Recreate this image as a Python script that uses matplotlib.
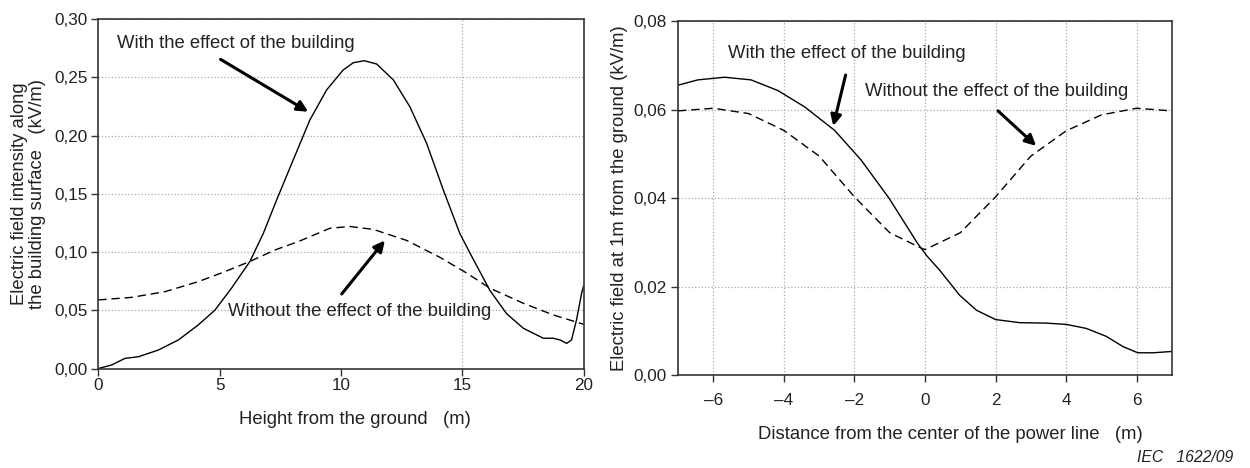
import matplotlib
matplotlib.use("Agg")
import matplotlib.pyplot as plt
from matplotlib.ticker import FuncFormatter

plt.rcParams['font.family'] = ['Liberation Sans', 'DejaVu Sans']

# ---- Left chart data: along the building surface ----
left_with_x = [0, 0.55, 1.1, 1.65, 2.47, 3.3, 4.12, 4.81, 5.49, 6.25, 6.8, 7.35, 8.03, 8.72,
               9.41, 10.09, 10.51, 10.96, 11.47, 12.16, 12.84, 13.53, 14.22, 14.9,
               15.32, 16.14, 16.83, 17.52, 18.34, 18.75, 19.03, 19.3, 19.5, 19.71, 19.92, 20.0]
left_with_y = [0.000, 0.003, 0.0087, 0.0101, 0.0158, 0.0245, 0.0374, 0.0502, 0.069, 0.092,
               0.116, 0.1448, 0.179, 0.2135, 0.2393, 0.2564, 0.2627, 0.2644, 0.2616, 0.2479,
               0.2249, 0.1935, 0.1533, 0.116, 0.099, 0.067, 0.047, 0.0345, 0.026, 0.026,
               0.0245, 0.0216, 0.0245, 0.042, 0.065, 0.071]
left_without_x = [0, 1.37, 2.75, 4.12, 5.22, 6.25, 7.28, 8.24, 9.55, 10.37, 11.34, 12.71,
                  14.08, 15.18, 16.14, 17.52, 18.75, 20.0]
left_without_y = [0.0589, 0.0611, 0.066, 0.0746, 0.0832, 0.092, 0.1018, 0.109, 0.1205, 0.122,
                  0.1195, 0.110, 0.0955, 0.082, 0.069, 0.056, 0.046, 0.038]
left_xticks = [0, 5, 10, 15, 20]
left_yticks = [0.00, 0.05, 0.10, 0.15, 0.20, 0.25, 0.30]

# ---- Right chart data: 1 m from the ground ----
right_with_x = [-7, -6.44, -5.68, -4.93, -4.17, -3.41, -2.56, -1.81, -1.02, -0.21, 0.05, 0.42,
                0.98, 1.46, 2.0, 2.68, 3.44, 4.01, 4.57, 5.14, 5.61, 6.03, 6.46, 7.0]
right_with_y = [0.0655, 0.0667, 0.0673, 0.0667, 0.0643, 0.0606, 0.0553, 0.0486, 0.0400,
                0.0298, 0.0270, 0.0237, 0.0181, 0.0147, 0.0126, 0.0119, 0.0118, 0.0115,
                0.0106, 0.0088, 0.0065, 0.0051, 0.0051, 0.0054]
right_without_x = [-7, -6, -5, -4, -3, -2, -1, -0.1, 0, 1, 2, 3, 4, 5, 6, 7]
right_without_y = [0.0597, 0.0603, 0.0591, 0.0553, 0.0495, 0.0403, 0.0322, 0.0287, 0.0284,
                   0.0322, 0.0403, 0.0495, 0.0552, 0.0588, 0.0603, 0.0597]
right_xticks = [-6, -4, -2, 0, 2, 4, 6]
right_yticks = [0.00, 0.02, 0.04, 0.06, 0.08]

label_with = "With the effect of the building"
label_without = "Without the effect of the building"

TXT = '#222222'
FS = 13.3
TFS = 12.3
fig = plt.figure(figsize=(12.5, 4.68), dpi=100)
axL = fig.add_axes([0.0786, 0.2126, 0.3883, 0.7462])
axR = fig.add_axes([0.5424, 0.1979, 0.3952, 0.7573])

def comma(v, _):
    return f"{v:.2f}".replace('.', ',')

def dash_int(v, _):
    s = f"{v:.0f}"
    return s.replace('-', '\u2013')

for ax in (axL, axR):
    for sp in ax.spines.values():
        sp.set_color('#333333')
        sp.set_linewidth(1.2)
    ax.tick_params(direction='out', length=5, width=1, colors='#333333',
                   labelsize=TFS, labelcolor=TXT, pad=3)
    ax.yaxis.set_major_formatter(FuncFormatter(comma))

# Left
axL.plot(left_with_x, left_with_y, color='black', lw=1.0)
axL.plot(left_without_x, left_without_y, color='black', lw=1.0, dashes=(6, 3.5))
axL.set_xlim(0, 20)
axL.set_ylim(0, 0.30)
axL.set_xticks(left_xticks)
axL.set_yticks(left_yticks)
axL.tick_params(axis='x', pad=2)
axL.grid(axis='y', linestyle=':', color='#aaaaaa', lw=0.9)
axL.axvline(15, linestyle=':', color='#aaaaaa', lw=0.9, zorder=0)
axL.set_xlabel("Height from the ground   (m)", fontsize=FS, color=TXT)
axL.xaxis.set_label_coords(0.529, -0.123)
axL.set_ylabel("Electric field intensity along\nthe building surface   (kV/m)", fontsize=FS,
               color=TXT, labelpad=6, linespacing=1.05)
axL.text(0.76, 0.279, label_with, fontsize=FS, color=TXT, va='center', ha='left')
axL.text(5.36, 0.0488, label_without, fontsize=FS, color=TXT, va='center', ha='left')
arrow = dict(arrowstyle='-|>', lw=2.2, color='black', mutation_scale=16, shrinkA=0, shrinkB=0)
axL.annotate('', xy=(8.65, 0.2206), xytext=(5.04, 0.2656), arrowprops=arrow)
axL.annotate('', xy=(11.81, 0.110), xytext=(10.03, 0.064), arrowprops=arrow)

# Right
axR.plot(right_with_x, right_with_y, color='black', lw=1.0)
axR.plot(right_without_x, right_without_y, color='black', lw=1.0, dashes=(6, 3.5))
axR.set_xlim(-7, 7)
axR.set_ylim(0, 0.08)
axR.set_xticks(right_xticks)
axR.set_yticks(right_yticks)
axR.tick_params(axis='x', pad=8)
axR.xaxis.set_major_formatter(FuncFormatter(dash_int))
axR.grid(True, linestyle=':', color='#aaaaaa', lw=0.9)
axR.set_xlabel("Distance from the center of the power line   (m)", fontsize=FS, color=TXT)
axR.xaxis.set_label_coords(0.551, -0.143)
axR.set_ylabel("Electric field at 1m from the ground (kV/m)", fontsize=FS, color=TXT,
               labelpad=4)
axR.text(-5.58, 0.0726, label_with, fontsize=FS, color=TXT, va='center', ha='left')
axR.text(-1.71, 0.064, label_without, fontsize=FS, color=TXT, va='center', ha='left')
axR.annotate('', xy=(-2.6, 0.0563), xytext=(-2.25, 0.0678), arrowprops=arrow)
axR.annotate('', xy=(3.15, 0.0518), xytext=(2.07, 0.0597), arrowprops=arrow)

fig.text(1233 / 1250, 1 - 457 / 468, "IEC   1622/09", fontsize=11.3, style='italic',
         color=TXT, ha='right', va='center')

fig.savefig("out.png", dpi=100)
